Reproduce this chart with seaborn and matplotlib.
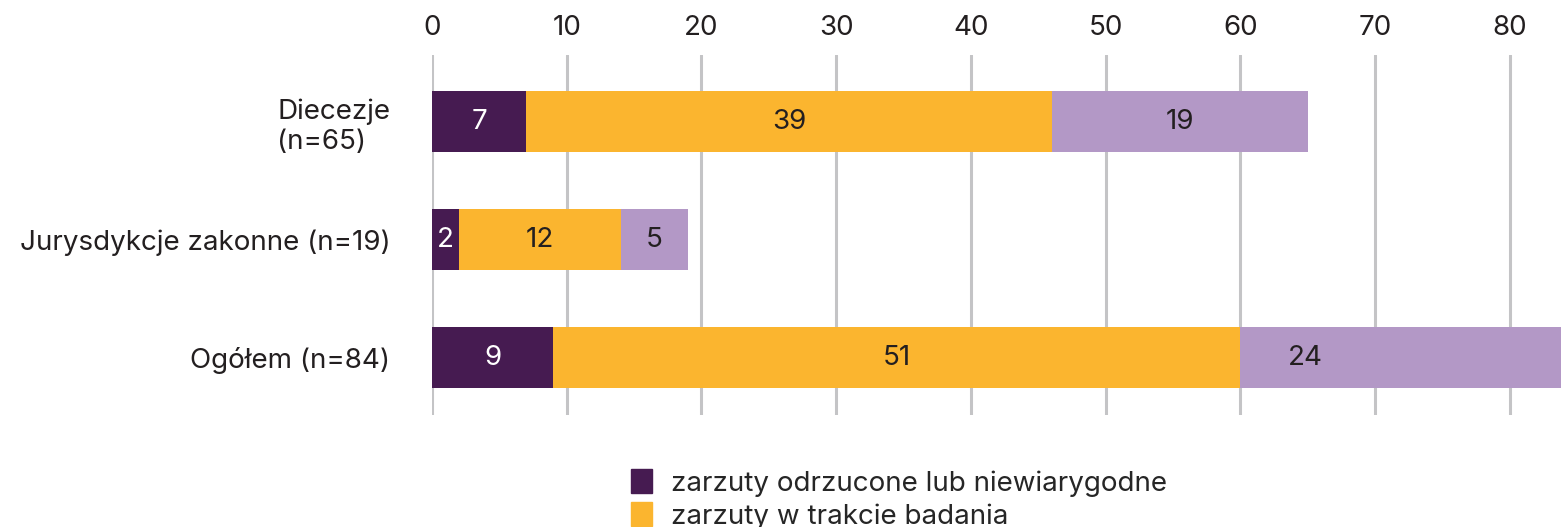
import matplotlib
matplotlib.use("Agg")
import matplotlib.pyplot as plt
import seaborn as sns
import pandas as pd
import numpy as np
from matplotlib.patches import Patch

categories = ["Diecezje\n(n=65)", "Jurysdykcje zakonne (n=19)", "Ogółem (n=84)"]
odrzucone = [7, 2, 9]
w_trakcie = [39, 12, 51]
potwierdzone = [19, 5, 24]
series_names = ["zarzuty odrzucone lub niewiarygodne", "zarzuty w trakcie badania"]
x_ticks = [0, 10, 20, 30, 40, 50, 60, 70, 80]

colors = ["#461B51", "#FBB52F", "#B398C6"]
text_colors = ["white", "#231F20", "#231F20"]

sns.set_theme(style="white")
plt.rcParams["font.family"] = ["Inter", "DejaVu Sans"]

FS = 20

fig = plt.figure(figsize=(15.61, 5.27), dpi=100)
ax = fig.add_axes([432 / 1561, 1 - 415 / 527, 1 - 432 / 1561, (415 - 55) / 527])

df = pd.DataFrame({
    "cat": categories,
    "a": odrzucone,
    "b": w_trakcie,
    "c": potwierdzone,
})
df["ab"] = df["a"] + df["b"]
df["abc"] = df["ab"] + df["c"]

for col, colr in [("abc", colors[2]), ("ab", colors[1]), ("a", colors[0])]:
    sns.barplot(data=df, y="cat", x=col, orient="h", color=colr, width=0.52,
                saturation=1, ax=ax, zorder=3, linewidth=0, order=categories)

xmax = 83.8
ax.set_xlim(0, xmax)
ax.set_ylim(2.487, -0.564)

# labels
vis_limit = 69.6
for i in range(len(categories)):
    starts = [0, odrzucone[i], odrzucone[i] + w_trakcie[i]]
    vals = [odrzucone[i], w_trakcie[i], potwierdzone[i]]
    for k in range(3):
        s = starts[k]
        e = s + vals[k]
        mid = (s + min(e, vis_limit)) / 2 if e > xmax else (s + e) / 2
        ax.text(mid, i, str(vals[k]), ha="center", va="center", fontsize=FS,
                color=text_colors[k], zorder=5)

ax.xaxis.tick_top()
ax.set_xticks(x_ticks)
ax.set_xticklabels([str(t) for t in x_ticks])
ax.tick_params(axis="x", length=0, pad=10, labelsize=FS, colors="#231F20")
ax.tick_params(axis="y", length=0, pad=30, labelsize=FS, colors="#231F20")
for lab in ax.get_yticklabels():
    lab.set_multialignment("left")
ax.set_xlabel("")
ax.set_ylabel("")
for sp in ax.spines.values():
    sp.set_visible(False)
ax.grid(axis="x", color="#C4C4C6", linewidth=2.2, zorder=0)
ax.set_axisbelow(True)

handles = [Patch(color=colors[0], label=series_names[0]),
           Patch(color=colors[1], label=series_names[1])]
fig.legend(handles=handles, loc="upper left", bbox_to_anchor=(631 / 1561, 1 - 469 / 527),
           frameon=False, fontsize=FS, handlelength=0.75, handleheight=0.95,
           handletextpad=0.7, labelspacing=0.2, borderpad=0, borderaxespad=0)

fig.savefig("out.png", dpi=100)
